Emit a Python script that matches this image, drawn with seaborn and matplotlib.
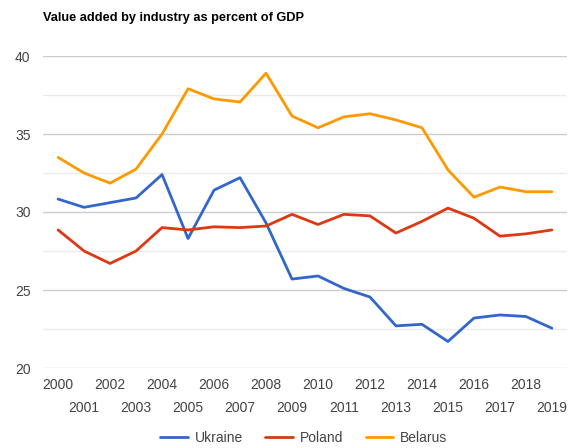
import matplotlib
matplotlib.use("Agg")
import matplotlib.pyplot as plt
import seaborn as sns
import pandas as pd

years = list(range(2000, 2020))
ukraine = [30.83, 30.3, 30.6, 30.9, 32.4, 28.3, 31.4, 32.2, 29.3, 25.7,
           25.9, 25.1, 24.55, 22.7, 22.8, 21.7, 23.2, 23.4, 23.3, 22.55]
poland = [28.85, 27.5, 26.7, 27.5, 29.0, 28.85, 29.05, 29.0, 29.1, 29.85,
          29.2, 29.85, 29.75, 28.65, 29.4, 30.25, 29.6, 28.45, 28.6, 28.85]
belarus = [33.5, 32.5, 31.85, 32.75, 35.0, 37.9, 37.25, 37.05, 38.9, 36.15,
           35.4, 36.1, 36.3, 35.9, 35.4, 32.7, 30.95, 31.6, 31.3, 31.3]
countries = ["Ukraine", "Poland", "Belarus"]
colors = ["#3366cc", "#dc3912", "#ff9900"]

df = pd.DataFrame({
    "year": years * 3,
    "value": ukraine + poland + belarus,
    "country": [c for c in countries for _ in years],
})

sns.set_style("white")
plt.rcParams["font.family"] = ["Liberation Sans", "DejaVu Sans"]

fig = plt.figure(figsize=(5.69, 4.48), dpi=100)
ax = fig.add_axes([43 / 569, 1 - 368 / 448, 524 / 569, 312 / 448])

sns.lineplot(data=df, x="year", y="value", hue="country", palette=colors,
             linewidth=2, ax=ax, legend=False)

ax.set_xlim(1999.42, 2019.58)
ax.set_ylim(20, 40)
ax.set_yticks([20, 25, 30, 35, 40])
ax.set_yticks([22.5, 27.5, 32.5, 37.5], minor=True)
ax.grid(True, which="major", axis="y", color="#cccccc", linewidth=1)
ax.grid(True, which="minor", axis="y", color="#ebebeb", linewidth=1)
ax.grid(False, axis="x")
ax.set_axisbelow(True)
for s in ax.spines.values():
    s.set_visible(False)

# even years on the first row, odd years on a second row below
even = [y for y in years if y % 2 == 0]
odd = [y for y in years if y % 2 == 1]
ax.set_xticks(even)
ax.set_xticklabels([str(y) for y in even])
ax.set_xticks(odd, minor=True)
ax.set_xticklabels([str(y) for y in odd], minor=True)

ax.tick_params(axis="x", which="major", length=0, pad=7, labelsize=10, labelcolor="#444444")
ax.tick_params(axis="x", which="minor", length=0, pad=24, labelsize=10, labelcolor="#444444")
ax.tick_params(axis="y", which="both", length=0, pad=9, labelsize=10, labelcolor="#444444")
ax.set_xlabel("")
ax.set_ylabel("")

fig.text(43 / 569, 1 - 18 / 448, "Value added by industry as percent of GDP",
         fontsize=9.2, fontweight="bold", color="#000000", va="center", ha="left")

handles = [plt.Line2D([], [], color=c, linewidth=2) for c in colors]
fig.legend(handles, countries, loc="center", bbox_to_anchor=(0.534, 1 - 438 / 448),
           ncol=3, frameon=False, fontsize=10, handlelength=2, handletextpad=0.5,
           columnspacing=1.6, labelcolor="#444444")

fig.savefig("out.png", dpi=100)
plt.close(fig)
